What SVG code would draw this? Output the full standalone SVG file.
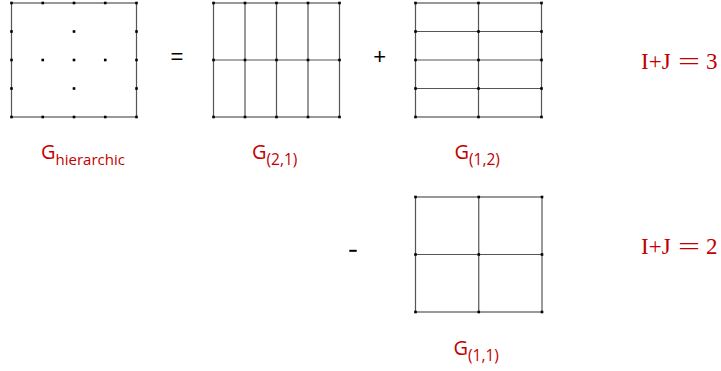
<svg xmlns="http://www.w3.org/2000/svg" xmlns:xlink="http://www.w3.org/1999/xlink" width="721" height="371" viewBox="0 0 721 371">
<style>
.ln{stroke:#555;stroke-width:1.2;fill:none}
.lbl{font-family:"Open Sans","Liberation Sans",sans-serif;fill:#c00000}
.eq{font-family:"Liberation Serif","DejaVu Serif",serif;fill:#c00000;font-size:23px}
.op{font-family:"Liberation Sans",sans-serif;fill:#000;font-size:22px;text-anchor:middle}
</style>
<defs>
<rect id="d" x="-1.3" y="-1.3" width="2.6" height="2.6" fill="#000"/>
</defs>
<rect width="721" height="371" fill="#fff"/>

<g id="g-hierarchic">
<rect class="ln" x="11.5" y="3" width="125" height="114"/>
<use xlink:href="#d" x="11.5" y="3"/><use xlink:href="#d" x="42.75" y="3"/><use xlink:href="#d" x="74" y="3"/><use xlink:href="#d" x="105.25" y="3"/><use xlink:href="#d" x="136.5" y="3"/>
<use xlink:href="#d" x="11.5" y="117"/><use xlink:href="#d" x="42.75" y="117"/><use xlink:href="#d" x="74" y="117"/><use xlink:href="#d" x="105.25" y="117"/><use xlink:href="#d" x="136.5" y="117"/>
<use xlink:href="#d" x="11.5" y="31.5"/><use xlink:href="#d" x="11.5" y="60"/><use xlink:href="#d" x="11.5" y="88.5"/>
<use xlink:href="#d" x="136.5" y="31.5"/><use xlink:href="#d" x="136.5" y="60"/><use xlink:href="#d" x="136.5" y="88.5"/>
<use xlink:href="#d" x="74" y="31.5"/><use xlink:href="#d" x="42.75" y="60"/><use xlink:href="#d" x="74" y="60"/><use xlink:href="#d" x="105.25" y="60"/><use xlink:href="#d" x="74" y="88.5"/>
<text class="lbl" x="41" y="159" font-size="20">G<tspan font-size="15" dy="6">hierarchic</tspan></text>
</g>

<g id="g-2-1">
<rect class="ln" x="213.5" y="3" width="126" height="114"/>
<path class="ln" d="M245 3V117M276.5 3V117M308 3V117M213.5 60H339.5"/>
<use xlink:href="#d" x="213.5" y="3"/><use xlink:href="#d" x="245" y="3"/><use xlink:href="#d" x="276.5" y="3"/><use xlink:href="#d" x="308" y="3"/><use xlink:href="#d" x="339.5" y="3"/>
<use xlink:href="#d" x="213.5" y="60"/><use xlink:href="#d" x="245" y="60"/><use xlink:href="#d" x="276.5" y="60"/><use xlink:href="#d" x="308" y="60"/><use xlink:href="#d" x="339.5" y="60"/>
<use xlink:href="#d" x="213.5" y="117"/><use xlink:href="#d" x="245" y="117"/><use xlink:href="#d" x="276.5" y="117"/><use xlink:href="#d" x="308" y="117"/><use xlink:href="#d" x="339.5" y="117"/>
<text class="lbl" x="252" y="159" font-size="20">G<tspan font-size="15.5" dy="6">(2,1)</tspan></text>
</g>

<g id="g-1-2">
<rect class="ln" x="415.5" y="3" width="126" height="114"/>
<path class="ln" d="M478.5 3V117M415.5 31.5H541.5M415.5 60H541.5M415.5 88.5H541.5"/>
<use xlink:href="#d" x="415.5" y="3"/><use xlink:href="#d" x="478.5" y="3"/><use xlink:href="#d" x="541.5" y="3"/>
<use xlink:href="#d" x="415.5" y="31.5"/><use xlink:href="#d" x="478.5" y="31.5"/><use xlink:href="#d" x="541.5" y="31.5"/>
<use xlink:href="#d" x="415.5" y="60"/><use xlink:href="#d" x="478.5" y="60"/><use xlink:href="#d" x="541.5" y="60"/>
<use xlink:href="#d" x="415.5" y="88.5"/><use xlink:href="#d" x="478.5" y="88.5"/><use xlink:href="#d" x="541.5" y="88.5"/>
<use xlink:href="#d" x="415.5" y="117"/><use xlink:href="#d" x="478.5" y="117"/><use xlink:href="#d" x="541.5" y="117"/>
<text class="lbl" x="454.5" y="159" font-size="20">G<tspan font-size="15.5" dy="6">(1,2)</tspan></text>
</g>

<g id="g-1-1">
<rect class="ln" x="415.5" y="197" width="126.5" height="115"/>
<path class="ln" d="M478.75 197V312M415.5 254.5H542"/>
<use xlink:href="#d" x="415.5" y="197"/><use xlink:href="#d" x="478.75" y="197"/><use xlink:href="#d" x="542" y="197"/>
<use xlink:href="#d" x="415.5" y="254.5"/><use xlink:href="#d" x="478.75" y="254.5"/><use xlink:href="#d" x="542" y="254.5"/>
<use xlink:href="#d" x="415.5" y="312"/><use xlink:href="#d" x="478.75" y="312"/><use xlink:href="#d" x="542" y="312"/>
<text class="lbl" x="453.5" y="354.5" font-size="20">G<tspan font-size="15.5" dy="6">(1,1)</tspan></text>
</g>

<g id="operators">
<text class="op" x="177" y="63.5">=</text>
<text class="op" x="379.7" y="63.5">+</text>
<rect x="349.3" y="249.8" width="7.4" height="2" fill="#000"/>
</g>

<g id="level-3">
<text class="eq" x="641" y="69.3">I+J<tspan x="678" textLength="22" lengthAdjust="spacingAndGlyphs">=</tspan><tspan x="706">3</tspan></text>
</g>
<g id="level-2">
<text class="eq" x="641" y="254.3">I+J<tspan x="678" textLength="22" lengthAdjust="spacingAndGlyphs">=</tspan><tspan x="706">2</tspan></text>
</g>
</svg>
